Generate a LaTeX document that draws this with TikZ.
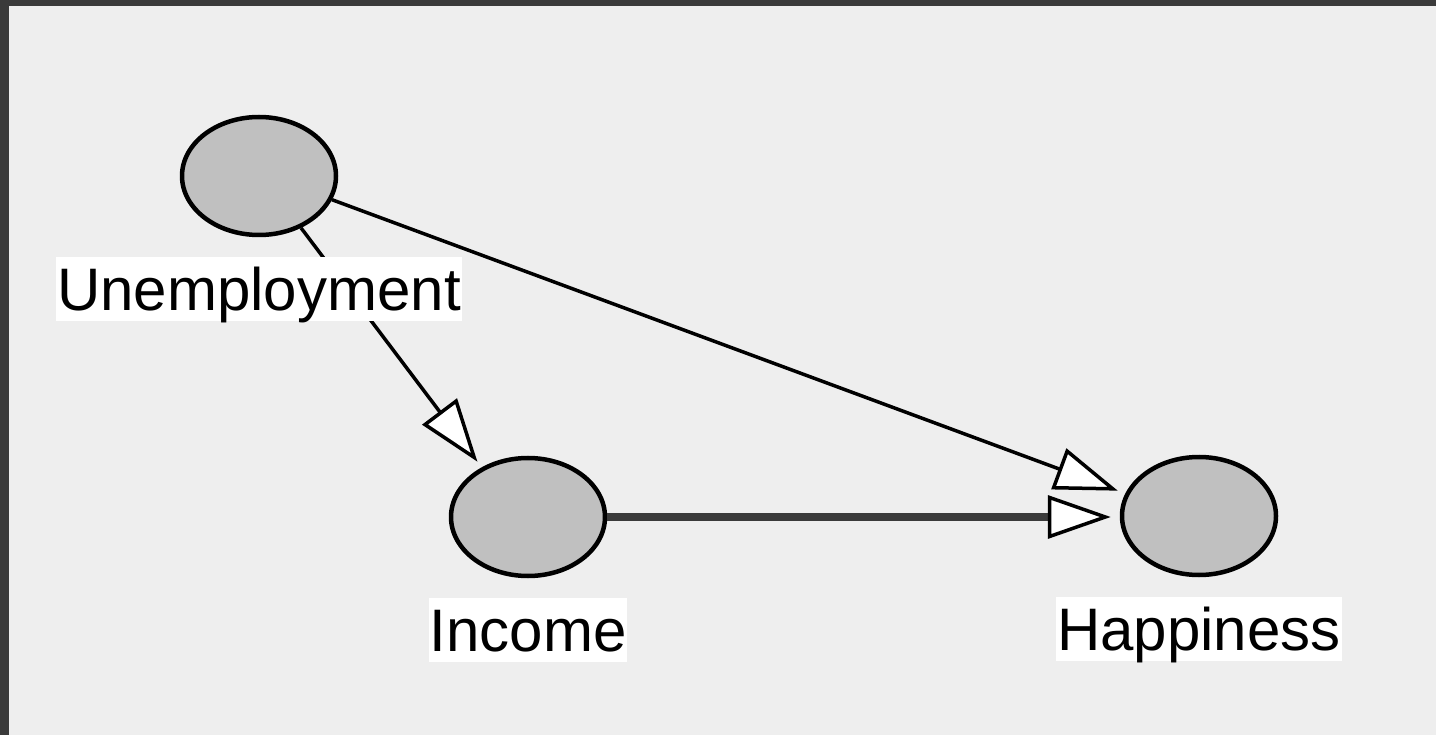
\documentclass[tikz,border=0pt]{standalone}
\usepackage{fontspec}
\setmainfont{Liberation Sans}
\usetikzlibrary{shapes.geometric,arrows.meta,calc}
\definecolor{frame}{RGB}{58,58,58}
\definecolor{canvas}{RGB}{238,238,238}
\definecolor{nodefill}{RGB}{192,192,192}
\begin{document}
\begin{tikzpicture}[x=1pt,y=-1pt,
  var/.style={ellipse, draw=black, line width=4.5pt, fill=nodefill,
    minimum width=154pt, minimum height=118pt, inner sep=0pt},
  varlabel/.style={fill=white, inner xsep=1pt, inner ysep=0pt,
    text height=53pt, text depth=11pt, anchor=north,
    font=\fontsize{60}{72}\selectfont},
  tip/.style={-{Triangle[length=63pt, width=43pt, color=black, fill=white, line width=3.5pt]}},
  edge/.style={tip, draw=black, line width=3.5pt},
  thickedge/.style={tip, draw=frame, line width=8pt}]
  % frame and canvas
  \fill[frame] (0,0) rectangle (1436,735);
  \fill[canvas] (9,6) rectangle (1436,735);
  \useasboundingbox (0,0) rectangle (1436,735);

  % variables
  \node[var] (U) at (259,176) {};
  \node[var] (I) at (528,517) {};
  \node[var] (H) at (1199,516) {};

  % causal arrows
  \draw[edge, shorten >=7pt] (U.-51) -- (I.133);
  \draw[edge, shorten >=8pt] (U.-18.7) -- (H.163.5);
  \draw[thickedge, shorten >=9pt] (I.east) -- (I.east -| H.west);

  % variable names
  \node[varlabel] (Ul) at ($(U.south)+(0,20)$) {Unemployment};
  \node[varlabel] (Il) at ($(I.south)+(0,20)$) {Income};
  \node[varlabel] (Hl) at ($(H.south)+(0,20)$) {Happiness};
\end{tikzpicture}
\end{document}
